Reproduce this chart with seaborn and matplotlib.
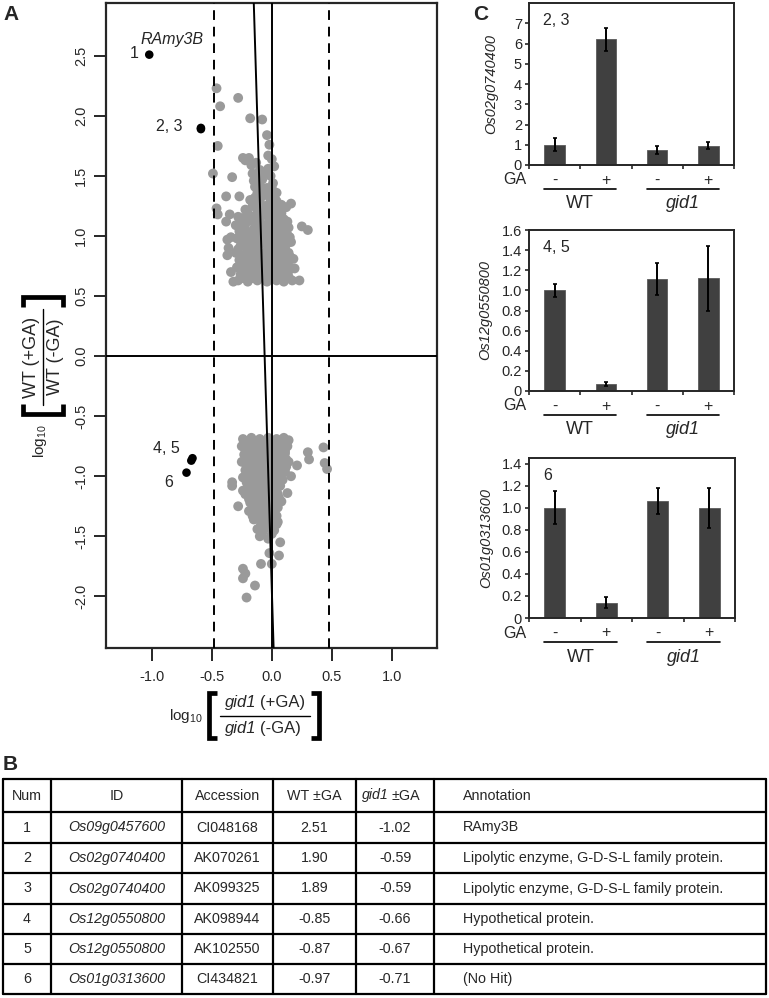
import numpy as np
import matplotlib
matplotlib.use("Agg")
import matplotlib.pyplot as plt
import seaborn as sns
from matplotlib.lines import Line2D

# ---- table B (also the black points of A) ----
nums = ["1", "2", "3", "4", "5", "6"]
gene_ids = ["Os09g0457600", "Os02g0740400", "Os02g0740400",
            "Os12g0550800", "Os12g0550800", "Os01g0313600"]
accessions = ["CI048168", "AK070261", "AK099325", "AK098944", "AK102550", "CI434821"]
wt_ratio = [2.51, 1.90, 1.89, -0.85, -0.87, -0.97]
gid1_ratio = [-1.02, -0.59, -0.59, -0.66, -0.67, -0.71]
annotations = ["RAmy3B", "Lipolytic enzyme, G-D-S-L family protein.",
               "Lipolytic enzyme, G-D-S-L family protein.",
               "Hypothetical protein.", "Hypothetical protein.", "(No Hit)"]

# ---- grey cloud in A (x = gid1 ratio, y = WT ratio) ----
upper_pts = [
    (-0.46, 2.23), (-0.43, 2.08), (-0.28, 2.15), (-0.18, 1.98), (-0.08, 1.97), (-0.04, 1.84),
    (-0.02, 1.76), (-0.45, 1.75), (-0.22, 1.63), (-0.49, 1.52), (-0.33, 1.49), (-0.24, 1.65),
    (-0.19, 1.65), (-0.17, 1.59), (-0.13, 1.61), (-0.03, 1.67), (0.00, 1.64), (0.02, 1.58),
    (-0.16, 1.52), (-0.15, 1.46), (-0.14, 1.41), (-0.06, 1.52), (-0.10, 1.55), (-0.08, 1.47),
    (-0.01, 1.50), (0.01, 1.44), (-0.04, 1.40), (-0.12, 1.36), (-0.38, 1.33), (-0.27, 1.33),
    (-0.46, 1.23), (-0.45, 1.18), (-0.35, 1.18), (-0.28, 1.16), (-0.38, 1.12), (-0.18, 1.30),
    (-0.05, 1.37), (0.03, 1.30), (0.12, 1.24), (0.16, 1.27), (0.09, 1.23), (0.07, 1.12),
    (0.25, 1.08), (0.30, 1.05), (0.18, 0.81), (0.19, 0.73), (0.23, 0.63), (-0.32, 0.62),
    (-0.34, 0.70), (-0.37, 0.84), (-0.36, 0.90), (-0.37, 0.97), (-0.34, 0.99),
    (-0.12, 1.45), (-0.09, 1.40), (-0.02, 1.33), (0.04, 1.36), (-0.14, 1.32), (-0.08, 1.33),
    (0.00, 1.40), (-0.11, 1.50), (-0.03, 1.56),
    (-0.10, 1.28), (-0.02, 1.27), (0.04, 1.29),
    (-0.16, 1.25), (-0.07, 1.25), (0.00, 1.24), (0.08, 1.26),
    (-0.22, 1.22), (-0.12, 1.21), (-0.05, 1.23), (0.02, 1.22), (0.06, 1.20),
    (-0.20, 1.19), (-0.12, 1.18), (-0.03, 1.19), (0.03, 1.18), (0.08, 1.19),
    (-0.24, 1.15), (-0.16, 1.16), (-0.08, 1.17), (0.00, 1.15), (0.05, 1.16), (0.10, 1.14),
    (-0.26, 1.13), (-0.18, 1.13), (-0.10, 1.12), (-0.02, 1.13), (0.06, 1.13), (0.13, 1.12),
    (-0.30, 1.09), (-0.22, 1.10), (-0.14, 1.11), (-0.06, 1.09), (0.02, 1.10), (0.08, 1.08),
    (-0.23, 1.07), (-0.15, 1.06), (-0.07, 1.07), (0.00, 1.06), (0.07, 1.07), (0.14, 1.07),
    (-0.27, 1.04), (-0.19, 1.03), (-0.11, 1.05), (-0.03, 1.04), (0.04, 1.03), (0.11, 1.05),
    (-0.25, 1.01), (-0.17, 1.00), (-0.09, 1.01), (-0.01, 1.00), (0.07, 1.01), (0.13, 1.01),
    (-0.29, 0.98), (-0.21, 0.97), (-0.13, 0.99), (-0.05, 0.98), (0.03, 0.97), (0.10, 0.98), (0.15, 0.99),
    (-0.22, 0.95), (-0.14, 0.94), (-0.06, 0.95), (0.02, 0.94), (0.09, 0.95), (0.16, 0.95),
    (-0.26, 0.92), (-0.18, 0.91), (-0.10, 0.93), (-0.02, 0.92), (0.06, 0.91), (0.12, 0.93),
    (-0.28, 0.89), (-0.20, 0.88), (-0.12, 0.89), (-0.04, 0.88), (0.04, 0.89), (0.11, 0.89),
    (-0.30, 0.86), (-0.22, 0.85), (-0.14, 0.87), (-0.06, 0.86), (0.02, 0.85), (0.09, 0.87), (0.14, 0.86),
    (-0.24, 0.83), (-0.16, 0.82), (-0.08, 0.83), (0.00, 0.82), (0.08, 0.83), (0.15, 0.83),
    (-0.27, 0.80), (-0.19, 0.79), (-0.11, 0.81), (-0.03, 0.80), (0.05, 0.79), (0.11, 0.80),
    (-0.25, 0.77), (-0.17, 0.76), (-0.09, 0.77), (-0.01, 0.76), (0.07, 0.77), (0.13, 0.77),
    (-0.29, 0.74), (-0.21, 0.73), (-0.13, 0.75), (-0.05, 0.74), (0.03, 0.73), (0.09, 0.75), (0.15, 0.74),
    (-0.23, 0.71), (-0.15, 0.70), (-0.07, 0.71), (0.01, 0.70), (0.08, 0.71), (0.14, 0.71),
    (-0.26, 0.68), (-0.18, 0.67), (-0.10, 0.69), (-0.02, 0.68), (0.06, 0.67), (0.12, 0.69),
    (-0.24, 0.65), (-0.16, 0.65), (-0.08, 0.66), (0.00, 0.65), (0.08, 0.65), (0.14, 0.66),
    (-0.28, 0.63), (-0.20, 0.62), (-0.12, 0.63), (-0.04, 0.62), (0.04, 0.63), (0.10, 0.62), (0.17, 0.63),
]
lower_pts = [
    (0.43, -0.76), (0.30, -0.80), (0.31, -0.86), (0.21, -0.91), (0.44, -0.89), (0.46, -0.94),
    (-0.33, -1.05), (-0.33, -1.08), (-0.24, -1.12), (0.13, -1.14), (-0.24, -1.77), (-0.22, -1.81),
    (-0.24, -1.85), (-0.14, -1.91), (-0.21, -2.01), (-0.09, -1.73), (0.00, -1.73), (0.06, -1.66),
    (0.07, -1.55), (-0.02, -1.64), (0.16, -1.00), (-0.28, -1.25),
    (-0.24, -0.69), (-0.17, -0.68), (-0.10, -0.69), (-0.03, -0.68), (0.04, -0.69), (0.10, -0.68), (0.14, -0.70),
    (-0.21, -0.72), (-0.14, -0.72), (-0.07, -0.72), (0.00, -0.72), (0.07, -0.72), (0.12, -0.72),
    (-0.25, -0.75), (-0.19, -0.76), (-0.12, -0.75), (-0.05, -0.76), (0.02, -0.75), (0.08, -0.76), (0.13, -0.75),
    (-0.22, -0.78), (-0.15, -0.79), (-0.08, -0.78), (-0.01, -0.79), (0.05, -0.78), (0.11, -0.79),
    (-0.23, -0.82), (-0.16, -0.81), (-0.09, -0.82), (-0.02, -0.81), (0.05, -0.82), (0.11, -0.81),
    (-0.20, -0.85), (-0.13, -0.85), (-0.06, -0.86), (0.01, -0.85), (0.07, -0.85), (0.12, -0.86),
    (-0.25, -0.88), (-0.18, -0.89), (-0.11, -0.88), (-0.04, -0.89), (0.03, -0.88), (0.09, -0.89), (0.14, -0.88),
    (-0.21, -0.91), (-0.14, -0.92), (-0.07, -0.91), (0.00, -0.92), (0.06, -0.91), (0.12, -0.92),
    (-0.22, -0.95), (-0.15, -0.94), (-0.08, -0.95), (-0.01, -0.94), (0.06, -0.95), (0.11, -0.96),
    (-0.19, -0.98), (-0.12, -0.98), (-0.05, -0.99), (0.02, -0.98), (0.08, -0.98),
    (-0.24, -1.01), (-0.17, -1.02), (-0.10, -1.01), (-0.03, -1.02), (0.04, -1.01), (0.09, -1.03),
    (-0.21, -1.05), (-0.14, -1.05), (-0.07, -1.06), (0.00, -1.05), (0.06, -1.05),
    (-0.20, -1.08), (-0.13, -1.09), (-0.06, -1.08), (0.01, -1.09), (0.07, -1.08),
    (-0.17, -1.12), (-0.10, -1.12), (-0.03, -1.13), (0.04, -1.12),
    (-0.22, -1.15), (-0.15, -1.16), (-0.08, -1.15), (-0.01, -1.16), (0.05, -1.15),
    (-0.19, -1.19), (-0.12, -1.19), (-0.05, -1.20), (0.02, -1.19), (0.06, -1.18),
    (-0.18, -1.22), (-0.11, -1.23), (-0.04, -1.22), (0.03, -1.23), (0.08, -1.21),
    (-0.15, -1.26), (-0.08, -1.26), (-0.01, -1.27), (0.05, -1.26),
    (-0.19, -1.29), (-0.12, -1.30), (-0.05, -1.29), (0.02, -1.30),
    (-0.16, -1.33), (-0.09, -1.33), (-0.02, -1.34), (0.04, -1.33),
    (-0.15, -1.36), (-0.08, -1.37), (-0.01, -1.36), (0.05, -1.38),
    (-0.09, -1.40), (-0.02, -1.41), (0.04, -1.40),
    (-0.12, -1.44), (-0.05, -1.43), (0.02, -1.45),
    (-0.08, -1.47), (0.00, -1.48),
    (-0.10, -1.50), (-0.03, -1.52),
]
fit_x = [-0.15, 0.015]
fit_y = [2.94, -2.43]
cutoff = 0.477  # log10(3)

# ---- panel C ----
conditions = ["WT-", "WT+", "gid1-", "gid1+"]
ga_signs = ["-", "+", "-", "+"]
c_genes = ["Os02g0740400", "Os12g0550800", "Os01g0313600"]
c_tags = ["2, 3", "4, 5", "6"]
c_means = [[1.0, 6.2, 0.72, 0.95],
           [1.0, 0.065, 1.11, 1.12],
           [1.0, 0.14, 1.06, 1.0]]
c_errs = [[0.32, 0.57, 0.20, 0.18],
          [0.065, 0.02, 0.16, 0.32],
          [0.15, 0.05, 0.12, 0.18]]
c_ytop = [8, 1.6, 1.45]
c_yticks = [[0, 1, 2, 3, 4, 5, 6, 7],
            [0, 0.2, 0.4, 0.6, 0.8, 1.0, 1.2, 1.4, 1.6],
            [0, 0.2, 0.4, 0.6, 0.8, 1.0, 1.2, 1.4]]

sns.set_style("ticks")
plt.rcParams["font.family"] = ["Liberation Sans", "DejaVu Sans"]
plt.rcParams["mathtext.fontset"] = "custom"
plt.rcParams["mathtext.rm"] = "Liberation Sans"
plt.rcParams["mathtext.it"] = "Liberation Sans:italic"

W, H = 769, 998
fig = plt.figure(figsize=(W / 100, H / 100), dpi=100)


def box(l, t, r, b):
    return [l / W, 1 - b / H, (r - l) / W, (b - t) / H]


def fx(px):
    return px / W


def fy(py):
    return 1 - py / H


def bracket(xs, ys):
    fig.add_artist(Line2D([fx(v) for v in xs], [fy(v) for v in ys], color="black",
                          lw=3.4, solid_joinstyle="miter", solid_capstyle="butt"))


# ================= A =================
ax = fig.add_axes(box(106, 3, 437, 648))
grey = np.vstack([np.array(upper_pts), np.array(lower_pts)])
sns.scatterplot(x=grey[:, 0], y=grey[:, 1], color="#9a9a9a", s=50, edgecolor="none", ax=ax, zorder=2)
sns.scatterplot(x=gid1_ratio, y=wt_ratio, color="black", s=38, edgecolor="none", ax=ax, zorder=4)
ax.axhline(0, color="black", lw=1.4, zorder=3)
ax.axvline(0, color="black", lw=1.4, zorder=3)
for c in (-cutoff, cutoff):
    ax.axvline(c, color="black", lw=1.4, ls=(0, (5, 3.5)), zorder=3)
ax.plot(fit_x, fit_y, color="black", lw=1.4, zorder=3)
ax.set_xlim(-1.38, 1.375)
ax.set_ylim(-2.43, 2.94)
ax.set_xticks([-1.0, -0.5, 0.0, 0.5, 1.0])
ax.set_yticks([-2.0, -1.5, -1.0, -0.5, 0.0, 0.5, 1.0, 1.5, 2.0, 2.5])
ax.set_xticklabels(["-1.0", "-0.5", "0.0", "0.5", "1.0"])
ax.set_yticklabels([f"{v:.1f}" for v in ax.get_yticks()], rotation=90, va="center")
ax.tick_params(direction="out", length=9, width=1.4, labelsize=10.5, pad=4)
ax.tick_params(axis="x", pad=7)
for sp in ax.spines.values():
    sp.set_linewidth(1.6)

ax.text(-1.11, 2.52, "1", ha="right", va="center", fontsize=11.5)
ax.text(-0.83, 2.64, "RAmy3B", ha="center", va="center", fontsize=11.5, style="italic")
ax.text(-0.74, 1.91, "2, 3", ha="right", va="center", fontsize=11.5)
ax.text(-0.77, -0.77, "4, 5", ha="right", va="center", fontsize=11.5)
ax.text(-0.86, -1.05, "6", ha="center", va="center", fontsize=11.5)

# y axis label of A, built from pieces (rotated fraction)
fig.text(fx(40), fy(441), r"log$_{10}$", rotation=90, ha="center", va="center", fontsize=11)
fig.text(fx(31), fy(357), "WT (+GA)", rotation=90, ha="center", va="center", fontsize=13)
fig.text(fx(56), fy(357), "WT (-GA)", rotation=90, ha="center", va="center", fontsize=13)
fig.add_artist(Line2D([fx(43), fx(43)], [fy(309), fy(405)], color="black", lw=1.0))
bracket([23, 23, 63, 63], [404, 414, 414, 404])
bracket([23, 23, 63, 63], [307, 297, 297, 307])

# x axis label of A
fig.text(fx(186), fy(716), r"log$_{10}$", ha="center", va="center", fontsize=11)
for yy, sign in ((702, "(+GA)"), (729, "(-GA)")):
    fig.text(fx(256), fy(yy), "gid1", ha="right", va="center", fontsize=12, style="italic")
    fig.text(fx(260), fy(yy), sign, ha="left", va="center", fontsize=12)
fig.add_artist(Line2D([fx(220), fx(310)], [fy(716), fy(716)], color="black", lw=1.0))
bracket([217, 209, 209, 217], [693, 693, 738, 738])
bracket([311, 319, 319, 311], [693, 693, 738, 738])

# ================= C =================
c_boxes = [(529, 3, 734, 165), (529, 230, 734, 391), (529, 458, 735, 618)]
for i in range(3):
    l, t, r, b = c_boxes[i]
    axc = fig.add_axes(box(l, t, r, b))
    hpx = b - t
    sns.barplot(x=conditions, y=c_means[i], color="#404040", width=0.4, saturation=1,
                errorbar=None, ax=axc, edgecolor="#5a5a5a", linewidth=0.6)
    axc.errorbar(range(4), c_means[i], yerr=c_errs[i], fmt="none", ecolor="black",
                 elinewidth=1.4, capsize=1.5, capthick=1.2)
    axc.set_xlim(-0.5, 3.5)
    axc.set_ylim(0, c_ytop[i])
    axc.set_xticks([-0.5, 0.5, 1.5, 2.5, 3.5])
    axc.set_xticklabels([])
    axc.set_yticks(c_yticks[i])
    axc.set_yticklabels(["0" if v == 0 else (f"{v:.1f}" if i > 0 else f"{v:d}") for v in c_yticks[i]])
    axc.tick_params(direction="out", length=3, width=1.2, labelsize=10.5, pad=2)
    for sp in axc.spines.values():
        sp.set_linewidth(1.4)
    axc.set_ylabel(c_genes[i], style="italic", fontsize=10.5)
    axc.yaxis.set_label_coords([-0.148, -0.18, -0.175][i], 0.5)
    axc.text(0.07, 0.89, c_tags[i], transform=axc.transAxes, fontsize=11.5, ha="left", va="center")

    tr = axc.get_xaxis_transform()
    axc.text(-0.78, -15 / hpx, "GA", transform=tr, ha="center", va="center", fontsize=11.5, clip_on=False)
    for k in range(4):
        axc.text(k, -15 / hpx, ga_signs[k], transform=tr, ha="center", va="center", fontsize=11.5)
    for g, name in enumerate(["WT", "gid1"]):
        axc.plot([2 * g - 0.2, 2 * g + 1.2], [-24 / hpx, -24 / hpx], transform=tr,
                 color="black", lw=1.2, clip_on=False)
        axc.text(2 * g + 0.5, -39 / hpx, name, transform=tr, ha="center", va="center",
                 fontsize=13, style="italic" if g == 1 else "normal")

# ================= B (table) =================
axt = fig.add_axes([0, 0, 1, 1])
axt.set_xlim(0, W)
axt.set_ylim(H, 0)
axt.axis("off")
col_edges = [3, 51, 182, 273, 356, 434, 766]
row_edges = [779, 812, 843, 873, 904, 934, 964, 994]
for xe in col_edges:
    axt.plot([xe, xe], [row_edges[0], row_edges[-1]], color="black", lw=1.6)
for ye in row_edges:
    axt.plot([col_edges[0], col_edges[-1]], [ye, ye], color="black", lw=1.6)
headers = ["Num", "ID", "Accession", "WT \u00b1GA", "", "Annotation"]
rows = [[nums[j], gene_ids[j], accessions[j], f"{wt_ratio[j]:.2f}", f"{gid1_ratio[j]:.2f}", annotations[j]]
        for j in range(6)]
fs_t = 10.3
for r_i, cells in enumerate([headers] + rows):
    yc = (row_edges[r_i] + row_edges[r_i + 1]) / 2
    for c_i, txt in enumerate(cells):
        st = "italic" if (c_i == 1 and r_i > 0) else "normal"
        if c_i == 5:
            axt.text(463, yc, txt, ha="left", va="center", fontsize=fs_t, style=st)
        else:
            axt.text((col_edges[c_i] + col_edges[c_i + 1]) / 2, yc, txt, ha="center",
                     va="center", fontsize=fs_t, style=st)
yh = (row_edges[0] + row_edges[1]) / 2
axt.text(389, yh, "gid1", ha="right", va="center", fontsize=fs_t, style="italic")
axt.text(392, yh, "\u00b1GA", ha="left", va="center", fontsize=fs_t)

# panel letters
fig.text(fx(3), fy(14), "A", fontsize=15, fontweight="bold", ha="left", va="center")
fig.text(fx(473), fy(14), "C", fontsize=15, fontweight="bold", ha="left", va="center")
fig.text(fx(3), fy(764), "B", fontsize=15, fontweight="bold", ha="left", va="center")

fig.savefig("out.png", dpi=100)
